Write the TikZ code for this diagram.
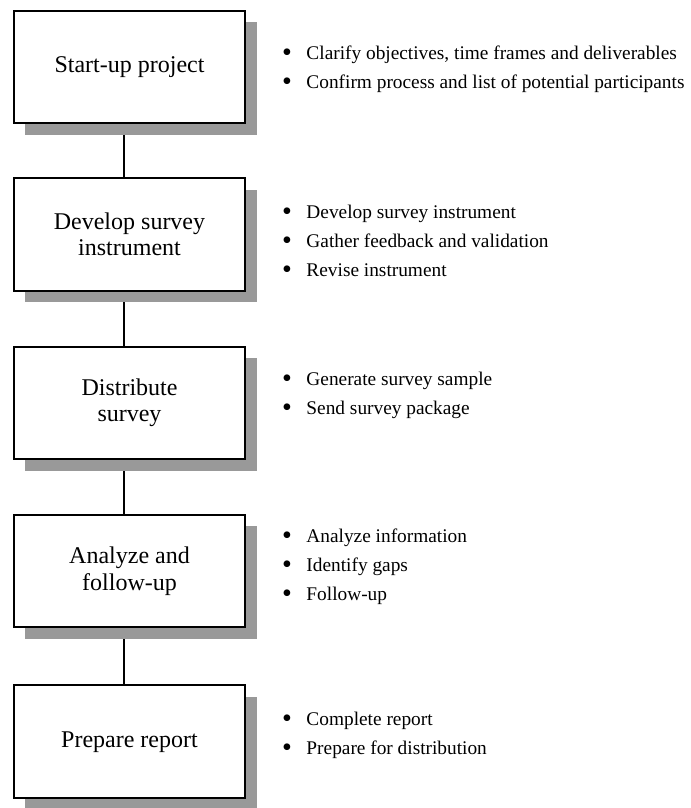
\documentclass[tikz,border=0pt]{standalone}
\usepackage{fontspec}
\usepackage{graphicx}
\setmainfont{Liberation Serif}
\usetikzlibrary{shadows,backgrounds}

\newcommand{\bigdot}{\raisebox{-1.8pt}{\scalebox{1.45}{\textbullet}}}
\newcommand{\tasklines}[1]{\begin{tabular}[t]{@{}l@{\hspace{11pt}}l@{}}#1\end{tabular}}

\tikzset{every picture/.style={line width=0.75pt}}
\tikzset{
  stage/.style={draw, line width=1.5pt, fill=white, inner sep=0pt,
    minimum width=173.3pt, minimum height=84.4pt, align=center,
    font=\fontsize{18}{19.9}\selectfont,
    drop shadow={shadow xshift=8.6pt, shadow yshift=-8.6pt, fill=black!40, opacity=1}},
  tasklist/.style={anchor=base west, inner sep=0pt, font=\fontsize{14.5}{21.75}\selectfont},
  link/.style={line width=1.1pt}
}

\begin{document}
\begin{tikzpicture}[x=0.75pt,y=0.75pt,yscale=-1,xscale=1]
\useasboundingbox (0,0) rectangle (691,808);

%Stage boxes
\node[stage] (start) at (129.5,66.8) {Start-up project};
\node[stage] (develop) at (129.5,234.5) {Develop survey\\instrument};
\node[stage] (distribute) at (129.5,402.9) {Distribute\\survey};
\node[stage] (analyze) at (129.5,571.2) {Analyze and\\follow-up};
\node[stage] (report) at (129.5,741.7) {Prepare report};

%Task lists
\node[tasklist] (starttasks) at (281.5,59.3) {\tasklines{%
  \bigdot & Clarify objectives, time frames and deliverables\\
  \bigdot & Confirm process and list of potential participants}};
\node[tasklist] (developtasks) at (281.5,218.3) {\tasklines{%
  \bigdot & Develop survey instrument\\
  \bigdot & Gather feedback and validation\\
  \bigdot & Revise instrument}};
\node[tasklist] (distributetasks) at (281.5,385) {\tasklines{%
  \bigdot & Generate survey sample\\
  \bigdot & Send survey package}};
\node[tasklist] (analyzetasks) at (281.5,542.3) {\tasklines{%
  \bigdot & Analyze information\\
  \bigdot & Identify gaps\\
  \bigdot & Follow-up}};
\node[tasklist] (reporttasks) at (281.5,725) {\tasklines{%
  \bigdot & Complete report\\
  \bigdot & Prepare for distribution}};

%Connectors, behind the shadows
\begin{scope}[on background layer]
\draw[link] ([xshift=-4.1pt]start.south) -- ([xshift=-4.1pt]develop.north);
\draw[link] ([xshift=-4.1pt]develop.south) -- ([xshift=-4.1pt]distribute.north);
\draw[link] ([xshift=-4.1pt]distribute.south) -- ([xshift=-4.1pt]analyze.north);
\draw[link] ([xshift=-4.1pt]analyze.south) -- ([xshift=-4.1pt]report.north);
\end{scope}

\end{tikzpicture}
\end{document}
